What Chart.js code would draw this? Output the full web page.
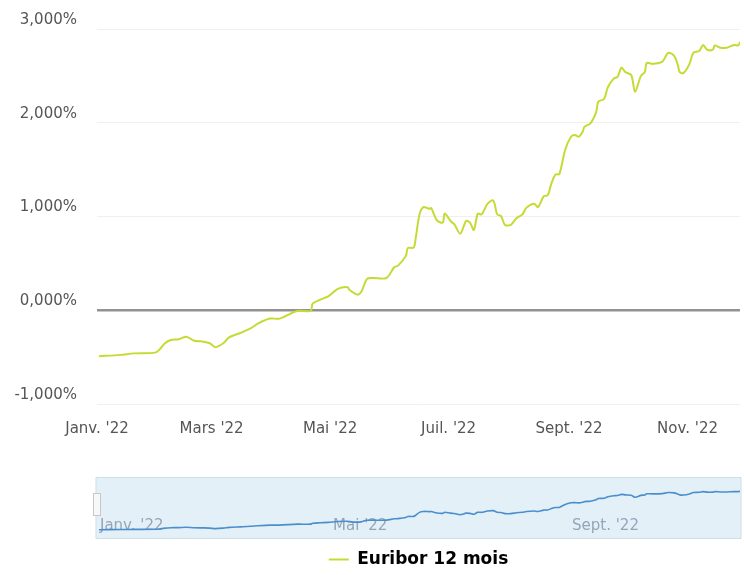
<!DOCTYPE html>
<html>
<head>
<meta charset="utf-8">
<script src="https://cdn.jsdelivr.net/npm/chart.js@4.4.1/dist/chart.umd.min.js"></script>
<style>
  html, body { margin: 0; padding: 0; background: #ffffff; overflow: hidden; }
  #wrap { position: relative; width: 744px; height: 575px; overflow: hidden; }
  #main { position: absolute; left: 0; top: 0; }
  #nav { position: absolute; left: 0; top: 445px; }
</style>
</head>
<body>
<div id="wrap">
  <canvas id="main" width="744" height="454"></canvas>
  <canvas id="nav" width="744" height="133"></canvas>
</div>
<script>
// ---- Data (day of year 2022, Euribor 12 months in %) ----
const seriesLabel = "Euribor 12 mois";
const days = [1, 12, 19, 30, 32, 35, 38, 42, 46, 50, 55, 58, 61, 65, 68, 74, 79, 83, 89, 94,
  103, 110, 111, 115, 119, 124, 129, 130, 134, 136, 139, 142, 149, 153, 155, 159, 160, 163, 164, 166,
  168, 171, 172, 175, 178, 179, 182, 184, 187, 190, 192, 194, 196, 198, 201, 204, 206, 208, 210, 213,
  216, 219, 221, 225, 227, 230, 232, 234, 236, 238, 241, 244, 246, 248, 250, 251, 254, 257, 258, 261,
  263, 266, 268, 270, 272, 275, 277, 280, 282, 283, 286, 291, 294, 297, 299, 300, 302, 305, 307, 310,
  312, 314, 317, 318, 321, 324, 328, 330, 331];
const rates = [-0.490, -0.476, -0.460, -0.452, -0.423, -0.352, -0.318, -0.310, -0.282, -0.325, -0.335, -0.352, -0.394, -0.352, -0.290, -0.240, -0.194, -0.141, -0.089, -0.089,
  -0.007, -0.007, 0.070, 0.113, 0.148, 0.229, 0.246, 0.216, 0.167, 0.194, 0.335, 0.344, 0.344, 0.459, 0.476, 0.580, 0.663, 0.669, 0.760, 1.020,
  1.100, 1.082, 1.090, 0.960, 0.935, 1.033, 0.952, 0.915, 0.817, 0.952, 0.935, 0.856, 1.030, 1.023, 1.135, 1.170, 1.023, 1.004, 0.910, 0.910,
  0.984, 1.023, 1.092, 1.136, 1.100, 1.217, 1.227, 1.358, 1.447, 1.453, 1.712, 1.850, 1.870, 1.850, 1.904, 1.958, 1.993, 2.116, 2.224, 2.253,
  2.380, 2.470, 2.490, 2.588, 2.540, 2.510, 2.330, 2.500, 2.540, 2.637, 2.628, 2.652, 2.745, 2.716, 2.617, 2.540, 2.530, 2.628, 2.745, 2.765,
  2.830, 2.780, 2.780, 2.825, 2.800, 2.800, 2.830, 2.825, 2.860];

const monthDays = [0, 59, 120, 181, 243, 304];
const monthLabels = ["Janv. '22", "Mars '22", "Mai '22", "Juil. '22", "Sept. '22", "Nov. '22"];
const navDays = [0, 120, 243];
const navLabels = ["Janv. '22", "Mai '22", "Sept. '22"];
const yTicks = [-1, 0, 1, 2, 3];

const xMin = 0, xMax = 331;
const FONT = "'DejaVu Sans', Verdana, sans-serif";
const lineColor = '#c6da34';
const navColor = '#4a8fcc';

const points = days.map((d, i) => ({ x: d, y: rates[i] }));

function fmtPct(v) {
  return v.toFixed(3).replace('.', ',') + '%';
}

// ---- Main chart ----
new Chart(document.getElementById('main'), {
  type: 'line',
  data: {
    datasets: [{
      label: seriesLabel,
      data: points,
      borderColor: lineColor,
      borderWidth: 2,
      pointRadius: 0,
      tension: 0.3,
      fill: false
    }]
  },
  options: {
    responsive: false,
    animation: false,
    layout: { padding: { left: 0, right: 4, top: 22, bottom: 0 } },
    plugins: { legend: { display: false }, tooltip: { enabled: false } },
    scales: {
      x: {
        type: 'linear',
        min: xMin, max: xMax,
        afterBuildTicks: (s) => { s.ticks = monthDays.map(v => ({ value: v })); },
        grid: { display: false, drawTicks: false },
        border: { display: false },
        ticks: {
          autoSkip: false, maxRotation: 0, padding: 16,
          color: '#555555',
          font: { family: FONT, size: 15 },
          callback: (v, i) => monthLabels[i]
        }
      },
      y: {
        type: 'linear',
        min: -1, max: 3,
        afterBuildTicks: (s) => { s.ticks = yTicks.map(v => ({ value: v })); },
        afterFit: (s) => { s.width = 97; },
        grid: {
          drawTicks: false,
          color: (c) => c.tick && c.tick.value === 0 ? '#929292' : '#f0f0f0',
          lineWidth: (c) => c.tick && c.tick.value === 0 ? 2.5 : 1
        },
        border: { display: false },
        ticks: {
          padding: 20,
          labelOffset: -9,
          color: '#555555',
          font: { family: FONT, size: 15 },
          callback: (v) => fmtPct(v)
        }
      }
    }
  }
});

// ---- Navigator chart ----
const navPlugin = {
  id: 'navDecor',
  beforeDatasetsDraw(chart) {
    const { ctx, chartArea: a, scales } = chart;
    ctx.save();
    ctx.fillStyle = '#e4f0f8';
    ctx.fillRect(a.left - 1, a.top, a.right - a.left + 2, a.bottom - a.top);
    ctx.strokeStyle = '#cfdfea';
    ctx.lineWidth = 1;
    ctx.strokeRect(a.left - 1, a.top + 0.5, a.right - a.left + 2, a.bottom - a.top - 1);
    ctx.font = '15px ' + FONT;
    ctx.fillStyle = 'rgba(120,140,165,0.75)';
    ctx.textBaseline = 'middle';
    ctx.textAlign = 'left';
    navDays.forEach((d, i) => {
      ctx.fillText(navLabels[i], scales.x.getPixelForValue(d) + 3, a.bottom - 13);
    });
    ctx.restore();
  },
  afterDatasetsDraw(chart) {
    const { ctx, chartArea: a } = chart;
    ctx.save();
    const hx = a.left - 4, hy = a.top + 16;
    ctx.fillStyle = '#f7f7f7';
    ctx.strokeStyle = '#c8c8c8';
    ctx.lineWidth = 1;
    ctx.fillRect(hx, hy, 7, 22);
    ctx.strokeRect(hx + 0.5, hy + 0.5, 7, 22);
    ctx.restore();
  }
};

new Chart(document.getElementById('nav'), {
  type: 'line',
  data: {
    datasets: [{
      label: seriesLabel,
      data: points,
      borderColor: navColor,
      borderWidth: 1.6,
      pointRadius: 0,
      tension: 0.3,
      fill: false
    }]
  },
  options: {
    responsive: false,
    animation: false,
    layout: { padding: { left: 97, right: 4, top: 32, bottom: 0 } },
    plugins: {
      tooltip: { enabled: false },
      legend: {
        display: true,
        position: 'bottom',
        labels: {
          usePointStyle: true,
          pointStyle: 'line',
          pointStyleWidth: 20,
          padding: 12,
          color: '#333333',
          font: { family: FONT, size: 17, weight: 'bold' },
          generateLabels: () => [{
            text: seriesLabel,
            strokeStyle: lineColor,
            fillStyle: lineColor,
            lineWidth: 2,
            pointStyle: 'line',
            hidden: false,
            datasetIndex: 0
          }]
        }
      }
    },
    scales: {
      x: { type: 'linear', min: xMin, max: xMax, display: false },
      y: { type: 'linear', min: -1.3, max: 4.1, display: false }
    }
  },
  plugins: [navPlugin]
});
</script>
</body>
</html>
